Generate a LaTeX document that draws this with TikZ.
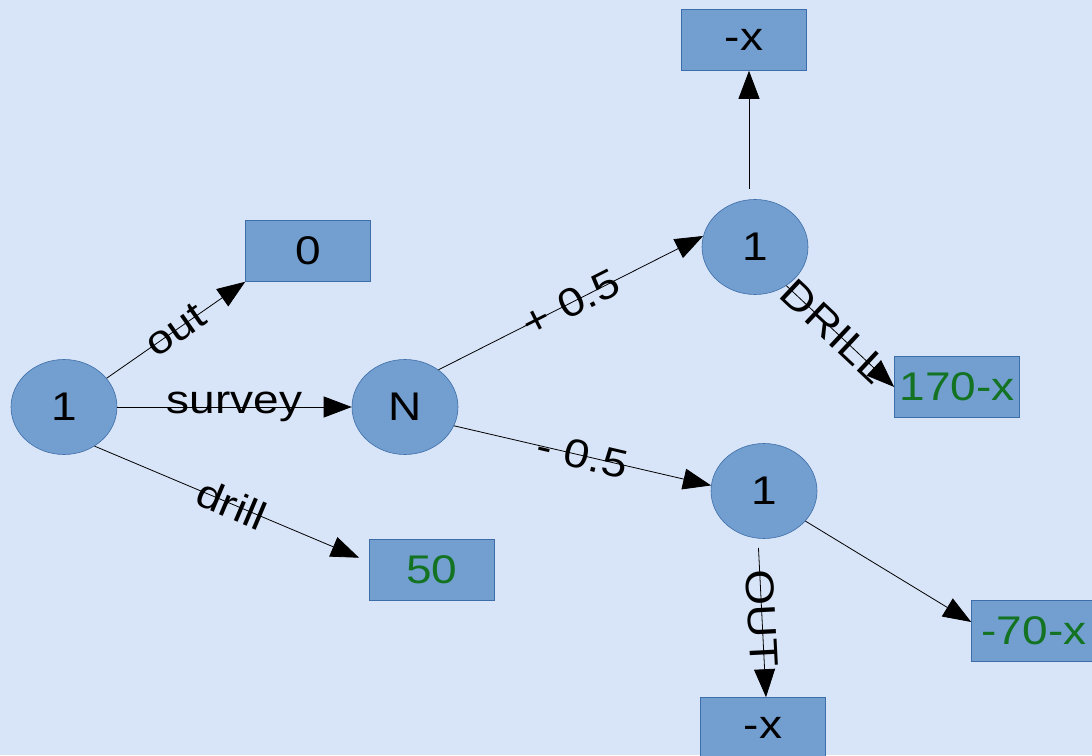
\documentclass[tikz,border=0pt]{standalone}
\usepackage{fontspec}
\setmainfont[FakeStretch=1.15]{Liberation Sans}
\usepackage{xcolor}
\usepackage{tikz}
\usetikzlibrary{arrows.meta,shapes.geometric}
\definecolor{bgblue}{RGB}{216,228,247}
\definecolor{nodeblue}{RGB}{114,159,207}
\definecolor{edgeblue}{RGB}{62,110,170}
\definecolor{paygreen}{RGB}{20,115,35}

\begin{document}
\begin{tikzpicture}[x=1pt,y=1pt,
  chance/.style={ellipse,draw=edgeblue,line width=0.6pt,fill=nodeblue,minimum width=106pt,minimum height=95pt,inner sep=0pt,font=\fontsize{40}{44}\selectfont},
  payoff/.style={rectangle,draw=edgeblue,line width=0.6pt,fill=nodeblue,minimum width=125pt,minimum height=61pt,inner sep=0pt,font=\fontsize{40}{44}\selectfont},
  arr/.style={line width=0.8pt,-{Triangle[length=28pt,width=21pt]}},
  lbl/.style={sloped,inner sep=0pt,font=\fontsize{40}{44}\selectfont}]
\fill[bgblue] (0,0) rectangle (1092,755);
\clip (0,0) rectangle (1092,755);
\node[chance] (start) at (64,348) {1};
\node[chance] (N) at (405,348) {N};
\node[chance] (up) at (755,508) {1};
\node[chance] (down) at (764,264) {1};
\node[payoff] (quit) at (308,504) {0};
\node[payoff,text=paygreen] (dig) at (432,185) {50};
\node[payoff] (upx) at (744,715) {-x};
\node[payoff,text=paygreen] (upgain) at (957,368) {170-x};
\node[payoff,text=paygreen] (downgain) at (1034,124) {-70-x};
\node[payoff] (downx) at (763,27) {-x};
\draw[arr] (start.34) -- node[lbl] {out} (quit.south west);
\draw[arr] (start) -- node[lbl] {survey} (N);
\draw[arr,shorten >=11pt] (start.-52) -- node[lbl] {drill} ([yshift=8pt]dig.west);
\draw[arr] (N.48) -- node[lbl] {+ 0.5} (up.168);
\draw[arr] (N.-21) -- node[lbl] {- 0.5} (down.174);
\draw[arr,shorten <=10pt] ([xshift=-6pt]up.north) -- ([xshift=5pt]upx.south);
\draw[arr] (up.-51) -- node[lbl,pos=0.45] {DRILL} (upgain.west);
\draw[arr,shorten <=9pt] ([xshift=-6pt]down.south) -- node[lbl] {OUT} ([xshift=3pt]downx.north);
\draw[arr] (down.-36) -- ([yshift=9pt]downgain.west);
\end{tikzpicture}
\end{document}
